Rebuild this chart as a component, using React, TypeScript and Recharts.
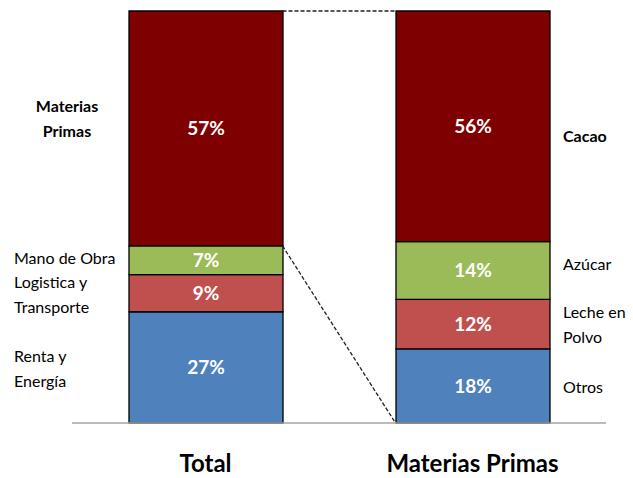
import { Bar, BarChart, LabelList, ReferenceLine, XAxis, YAxis } from 'recharts';

const categories = ['Total', 'Materias Primas'];
const bottomShare = [27, 18];
const secondShare = [9, 12];
const thirdShare = [7, 14];
const topShare = [57, 56];

const totalNames = [['Renta y', 'Energía'], ['Logistica y', 'Transporte'], ['Mano de Obra'], ['Materias', 'Primas']];
const rawNames = [['Otros'], ['Leche en', 'Polvo'], ['Azúcar'], ['Cacao']];

const WIDTH = 633;
const HEIGHT = 478;
const MARGIN = { top: 11, right: 27, left: 72, bottom: 0 };
const BAR_SIZE = 154;
const PLOT_W = WIDTH - MARGIN.left - MARGIN.right;
const BAND = PLOT_W / categories.length;
const COLORS = ['#4F81BD', '#C0504D', '#9BBB59', '#7F0000'];
const FONT = 'Lato, "Open Sans", sans-serif';

const data = categories.map((name, i) => ({
  name,
  s0: bottomShare[i],
  s1: secondShare[i],
  s2: thirdShare[i],
  s3: topShare[i],
}));

// edges of the two bars on a 0..1 helper axis, for the dashed connectors
const leftBarRight = (BAND / 2 + BAR_SIZE / 2) / PLOT_W;
const rightBarLeft = (BAND + BAND / 2 - BAR_SIZE / 2) / PLOT_W;
const sum = (i: number) => bottomShare[i] + secondShare[i] + thirdShare[i] + topShare[i];

function CategoryTick({ x, y, payload }: any) {
  return (
    <text x={x} y={y + 41} textAnchor="middle" fontSize={24} fontWeight={700} fill="#000" fontFamily={FONT}>
      {payload.value}
    </text>
  );
}

function sideLabel(level: number) {
  return (props: any) => {
    const { x, y, width, height, index } = props;
    const cy = y + height / 2;
    const lineH = 25;
    if (index === 0) {
      const lines = totalNames[level];
      const bold = level === 3;
      const tx = bold ? x - 62 : x - 115;
      const nudge = bold ? -10 : level === 2 ? -2 : 2;
      const top = cy - ((lines.length - 1) * lineH) / 2 + nudge;
      return (
        <text fontSize={16} fontWeight={bold ? 700 : 400} fill="#000" fontFamily={FONT} textAnchor={bold ? 'middle' : 'start'}>
          {lines.map((l, k) => (
            <tspan key={k} x={tx} y={top + k * lineH} dy="0.35em">{l}</tspan>
          ))}
        </text>
      );
    }
    const lines = rawNames[level];
    const bold = level === 3;
    const nudge = bold ? 10 : level === 2 ? -6 : 1;
    const top = cy - ((lines.length - 1) * lineH) / 2 + nudge;
    return (
      <text fontSize={16} fontWeight={bold ? 700 : 400} fill="#000" fontFamily={FONT}>
        {lines.map((l, k) => (
          <tspan key={k} x={x + width + 13} y={top + k * lineH} dy="0.35em">{l}</tspan>
        ))}
      </text>
    );
  };
}

export default function App() {
  return (
    <div style={{ position: 'absolute', left: 0, top: 0, width: WIDTH, height: HEIGHT, background: '#fff' }}>
      <BarChart width={WIDTH} height={HEIGHT} data={data} margin={MARGIN} style={{ fontFamily: FONT }}>
        <XAxis
          dataKey="name"
          height={55}
          tickLine={false}
          axisLine={{ stroke: '#a6a6a6', strokeWidth: 1.5 }}
          tick={<CategoryTick />}
          interval={0}
        />
        <XAxis xAxisId="conn" type="number" domain={[0, 1]} hide />
        <YAxis hide domain={[0, 100]} />
        {['s0', 's1', 's2', 's3'].map((key, level) => (
          <Bar
            key={key}
            dataKey={key}
            stackId="a"
            barSize={BAR_SIZE}
            fill={COLORS[level]}
            stroke="#000"
            strokeWidth={1.3}
            isAnimationActive={false}
          >
            <LabelList
              dataKey={key}
              position="center"
              formatter={(v: any) => `${v}%`}
              fill="#fff"
              fontSize={19}
              fontWeight={700}
              fontFamily={FONT}
            />
            <LabelList dataKey={key} content={sideLabel(level)} />
          </Bar>
        ))}
        <ReferenceLine
          xAxisId="conn"
          segment={[{ x: leftBarRight, y: sum(0) }, { x: rightBarLeft, y: sum(1) }]}
          stroke="#222"
          strokeDasharray="4 2"
          strokeWidth={1.3}
        />
        <ReferenceLine
          xAxisId="conn"
          segment={[{ x: leftBarRight, y: sum(0) - topShare[0] }, { x: rightBarLeft, y: 0 }]}
          stroke="#222"
          strokeDasharray="4 2"
          strokeWidth={1.3}
        />
      </BarChart>
    </div>
  );
}
